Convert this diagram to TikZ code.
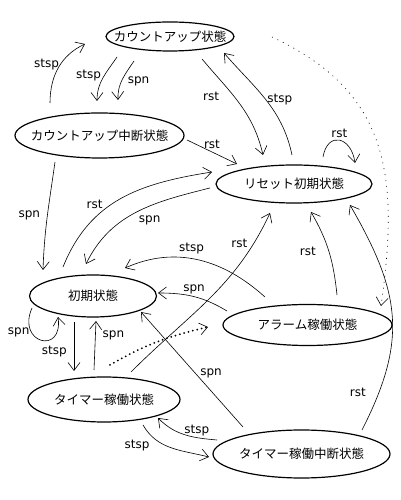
\documentclass[tikz,border=0pt]{standalone}
\usepackage{fontspec}
\setmainfont{DejaVu Sans}
\newfontfamily\jpfont{Noto Sans CJK JP}
\usetikzlibrary{shapes.geometric,arrows.meta,calc}
\begin{document}
\begin{tikzpicture}[x=1pt,y=1pt,
  st/.style={ellipse,draw,line width=1.2pt,inner sep=0pt,font={\jpfont\fontsize{12.5}{14}\selectfont}},
  tr/.style={line width=0.6pt,-{Straight Barb[length=8pt,width=12pt,line width=0.6pt]}},
  lb/.style={font={\fontsize{12}{14}\selectfont},inner sep=1pt}]
\useasboundingbox (0,0) rectangle (400,500);
\node[st,minimum width=128pt,minimum height=29pt] (cu) at (170,463.5){\makebox[0pt]{カウントアップ状態}};
\node[st,minimum width=169pt,minimum height=45pt] (cup) at (99.5,364.5){\makebox[0pt]{カウントアップ中断状態}};
\node[st,minimum width=156pt,minimum height=38pt] (rs) at (294,316){\makebox[0pt]{リセット初期状態}};
\node[st,minimum width=127pt,minimum height=42pt] (init) at (93,204){\makebox[0pt]{初期状態}};
\node[st,minimum width=169pt,minimum height=41pt] (al) at (307.5,175){\makebox[0pt]{アラーム稼働状態}};
\node[st,minimum width=152pt,minimum height=45pt] (tm) at (104,100.5){\makebox[0pt]{タイマー稼働状態}};
\node[st,minimum width=177pt,minimum height=48pt] (tmp) at (301.5,46){\makebox[0pt]{タイマー稼働中断状態}};
\draw[tr] ($(cup)+(-49.5,32.5)$) to[out=90,in=205] node[lb,pos=.55,left]{stsp} ($(cu)+(-85,-7.5)$);
\draw[tr] ($(cu)+(-53,-20.5)$) to[out=236,in=90] node[lb,pos=.45,left=2pt]{stsp} ($(cup)+(-2.5,34.5)$);
\draw[tr] ($(cu)+(-36,-24.5)$) to[out=236,in=92] node[lb,pos=.55,right=5pt]{spn} ($(cup)+(18.5,35.5)$);
\draw[tr] ($(cu)+(32,-22.5)$) to[out=-50,in=103] node[lb,pos=.42,left=14pt]{rst} ($(rs)+(-31,29)$);
\draw[tr] ($(rs)+(-2,29)$) to[out=102,in=-49] node[lb,pos=.5,right=0pt]{stsp} ($(cu)+(54,-16.5)$);
\draw[tr] ($(rs)+(29,27)$) to[out=80,in=98,looseness=2.1] node[lb,above=1pt]{rst} ($(rs)+(61,21)$);
\draw[tr] ($(cup)+(87.5,-4.5)$) -- node[lb,above=2pt]{rst} ($(rs)+(-57,20)$);
\draw[tr] ($(init)+(-30,29)$) to[out=68,in=189,looseness=1.05] node[lb,pos=.38,above left=0pt]{rst} ($(rs)+(-82,12)$);
\draw[tr] ($(rs)+(-84,-4)$) to[out=194,in=64] node[lb,pos=.4,below=8pt]{spn} ($(init)+(-7,32)$);
\draw[tr] ($(cup)+(-44.5,-26.5)$) to[out=-98,in=88] node[lb,pos=.5,left=6pt]{spn} ($(init)+(-50,26)$);
\draw[tr] ($(al)+(-42.5,28)$) to[out=138,in=24] node[lb,pos=.55,above=3pt]{stsp} ($(init)+(32,28)$);
\draw[tr] ($(al)+(-80.5,14)$) to[out=149,in=0] node[lb,pos=.5,above=1pt]{spn} ($(init)+(65,3)$);
\draw[tr] ($(al)+(29.5,30)$) to[out=96,in=-60] node[lb,pos=.5,left=12pt]{rst} ($(rs)+(17,-28)$);
\draw[tr,dash pattern=on 1pt off 5pt] ($(cu)+(102,-0.5)$) to[out=-25,in=82,looseness=1.15] ($(al)+(73.5,19)$);
\draw[tr,line width=2pt,line cap=round,dash pattern=on 0pt off 4.5pt] ($(tm)+(6,34.5)$) to[out=30,in=193] ($(al)+(-99.5,-2)$);
\draw[tr] ($(init)+(-19,-26)$) -- node[lb,pos=.6,left=6pt]{stsp} ($(tm)+(-30,28.5)$);
\draw[tr] ($(tm)+(-10,29.5)$) -- node[lb,pos=.7,right=6pt]{spn} ($(init)+(3,-25)$);
\draw[tr] ($(init)+(-61,-12)$) to[out=-114,in=-82,looseness=3.6] node[lb,pos=.3,left=1pt]{spn} ($(init)+(-35,-21)$);
\draw[tr] ($(tm)+(27,27.5)$) to[out=45,in=-115] node[lb,pos=.85,left=5pt]{rst} ($(rs)+(-24,-29)$);
\draw[tr] ($(tmp)+(-58.5,27)$) -- node[lb,pos=.47,right=4pt]{spn} ($(init)+(48,-16)$);
\draw[tr] ($(tm)+(39,-25.5)$) to[out=-60,in=166] node[lb,pos=.2,below left=2pt]{stsp} ($(tmp)+(-92.5,-3)$);
\draw[tr] ($(tmp)+(-84.5,14)$) to[out=175,in=-45] node[lb,pos=.3,above=0pt]{stsp} ($(tm)+(54,-18.5)$);
\draw[tr] ($(tmp)+(60.5,24)$) to[out=63,in=-60,looseness=1.15] node[lb,pos=.15,left=12pt]{rst} ($(rs)+(56,-21)$);
\end{tikzpicture}
\end{document}
